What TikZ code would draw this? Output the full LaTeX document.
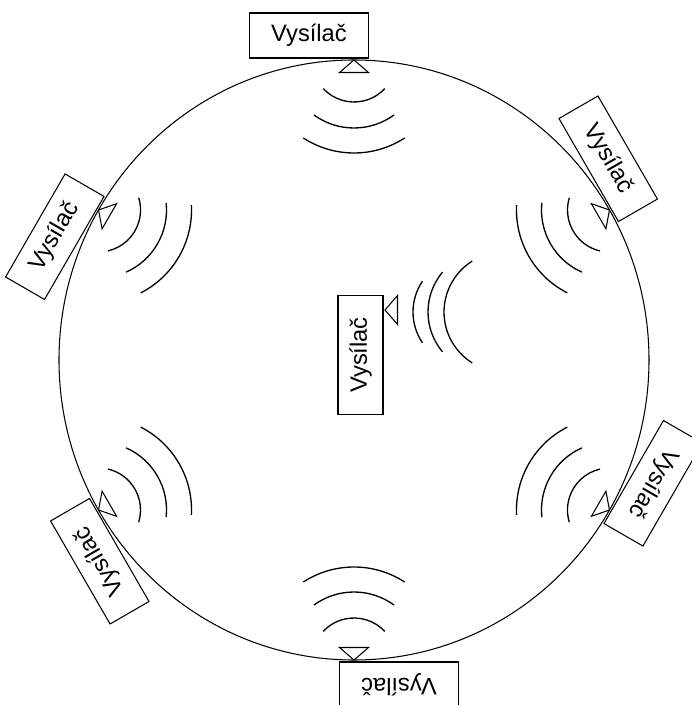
\documentclass[tikz,border=0pt]{standalone}
\usepackage{fontspec}
\setmainfont{Liberation Sans}
\begin{document}
\begin{tikzpicture}[x=0.02cm,y=0.02cm,line width=0.6pt,
    txbox/.style={draw,rectangle,minimum width=2.38cm,minimum height=0.9cm,
      inner sep=0pt,font=\fontsize{13.5}{16}\selectfont},
    wave/.style={line width=0.75pt}]
    \useasboundingbox (-354,-345) rectangle (337,360);
    \draw (0,0) ellipse [x radius=295, y radius=300];

    % transmitters round the edge
    \foreach \a/\n in {90/a,150/b,30/c,210/d,-30/e,-90/f} {
      \begin{scope}[shift={({295*cos(\a)},{300*sin(\a)})},rotate={\a-90},transform shape]
        \node[txbox] (tx\n) at (-45,24.5) {Vysílač};
        \draw (0,0) -- (-14.5,-12.5) -- (14.5,-12.5) -- cycle;
        \foreach \r/\h in {42/47,68/36,93/33}
          \draw[wave] (-90-\h:\r) arc[start angle=-90-\h,end angle=-90+\h,radius=\r];
      \end{scope}
    }

    % the one in the middle
    \begin{scope}[shift={(31,50)},rotate=90,transform shape]
      \node[txbox] (txm) at (-45,24.5) {Vysílač};
      \draw (0,0) -- (-14.5,-12.5) -- (14.5,-12.5) -- cycle;
    \end{scope}
    \foreach \cx/\r/\h in {114/55/34,136/62/40,150/60/58}
      \draw[wave] (\cx,48) ++(180-\h:\r) arc[start angle=180-\h,end angle=180+\h,radius=\r];
\end{tikzpicture}
\end{document}
